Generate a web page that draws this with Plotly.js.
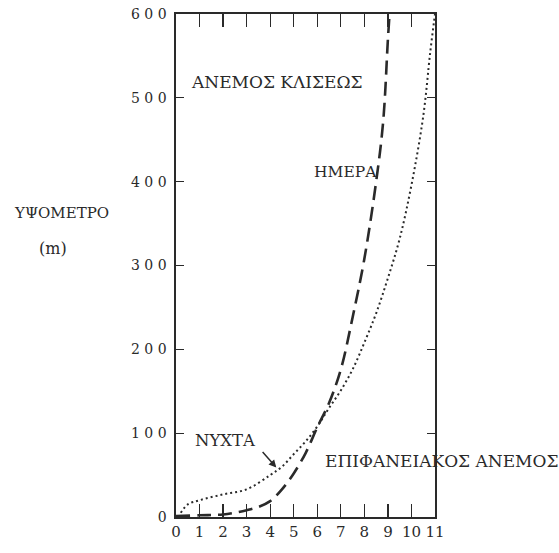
<!DOCTYPE html>
<html>
<head>
<meta charset="utf-8">
<script src="https://cdn.plot.ly/plotly-3.0.1.min.js"></script>
<style>html,body{margin:0;padding:0;background:#fff;}#chart{width:559px;height:553px;}</style>
</head>
<body>
<div id="chart"></div>
<script>
// Day profile (dashed) - wind speed vs height
const dayX = [0, 1, 2, 2.5, 3, 3.5, 4, 4.5, 5, 5.5, 6, 6.5, 7, 7.5, 8, 8.5, 8.8, 9, 9.07];
const dayY = [1, 2, 3, 5, 8, 12, 19, 33, 52, 76, 107, 136, 176, 238, 308, 400, 472, 570, 600];
// Night profile (dotted)
const nightX = [0.2, 0.5, 1, 2, 3, 4, 4.5, 5, 5.5, 6, 6.5, 7, 7.5, 8, 8.5, 9, 9.5, 10, 10.5, 10.8, 11];
const nightY = [5, 15, 20, 27, 33, 50, 60, 75, 90, 108, 130, 151, 176, 208, 243, 285, 332, 396, 478, 555, 600];

const xTicks = [0,1,2,3,4,5,6,7,8,9,10,11];
const yTicks = [0,100,200,300,400,500,600];
const yTickText = ["0","1 0 0","2 0 0","3 0 0","4 0 0","5 0 0","6 0 0"];

const FONT = "DejaVu Serif";
const INK = "#2a2a2a";

const traces = [
  {x: dayX, y: dayY, mode: "lines", line: {color: INK, width: 2.6, dash: "14px,7px", shape: "spline"}, hoverinfo: "skip"},
  {x: nightX, y: nightY, mode: "lines", line: {color: INK, width: 2, dash: "2px,3px", shape: "spline"}, hoverinfo: "skip"}
];

const layout = {
  width: 559, height: 553,
  margin: {l: 176, r: 124, t: 14, b: 36},
  paper_bgcolor: "#fff", plot_bgcolor: "#fff",
  showlegend: false,
  font: {family: FONT, color: INK},
  xaxis: {
    range: [0, 11], tickvals: xTicks, ticktext: xTicks.map(String),
    ticks: "inside", ticklen: 13, tickwidth: 1.3, tickcolor: INK,
    showline: true, linecolor: INK, linewidth: 1.6, mirror: "ticks",
    showgrid: false, zeroline: false,
    tickfont: {family: FONT, size: 15, color: INK}
  },
  yaxis: {
    range: [0, 600], tickvals: yTicks, ticktext: yTickText,
    ticks: "inside", ticklen: 8, tickwidth: 1.3, tickcolor: INK,
    showline: true, linecolor: INK, linewidth: 1.6, mirror: "ticks",
    showgrid: false, zeroline: false,
    tickfont: {family: FONT, size: 14, color: INK},
    ticklabelstandoff: 5
  },
  annotations: [
    {text: "ΑΝΕΜΟΣ ΚΛΙΣΕΩΣ", x: 4.3, y: 519, xref: "x", yref: "y", xanchor: "center", yanchor: "middle", showarrow: false, font: {size: 17, family: FONT, color: INK}},
    {text: "ΗΜΕΡΑ", x: 7.19, y: 411, xref: "x", yref: "y", xanchor: "center", yanchor: "middle", showarrow: false, font: {size: 15.5, family: FONT, color: INK}},
    {text: "ΝΥΧΤΑ", x: 2.09, y: 91, xref: "x", yref: "y", xanchor: "center", yanchor: "middle", showarrow: false, font: {size: 16.5, family: FONT, color: INK}},
    {text: "", x: 4.26, y: 59, xref: "x", yref: "y", showarrow: true, ax: -15, ay: -17, arrowhead: 2, arrowsize: 1, arrowwidth: 1.5, arrowcolor: INK},
    {text: "ΕΠΙΦΑΝΕΙΑΚΟΣ ΑΝΕΜΟΣ", x: 1.027, y: 0.111, xref: "paper", yref: "paper", xanchor: "center", yanchor: "middle", showarrow: false, font: {size: 17, family: FONT, color: INK}},
    {text: "ΥΨΟΜΕΤΡΟ", x: -0.444, y: 0.605, xref: "paper", yref: "paper", xanchor: "center", yanchor: "middle", showarrow: false, font: {size: 15, family: FONT, color: INK}},
    {text: "(m)", x: -0.475, y: 0.534, xref: "paper", yref: "paper", xanchor: "center", yanchor: "middle", showarrow: false, font: {size: 16, family: FONT, color: INK}}
  ]
};

Plotly.newPlot("chart", traces, layout, {staticPlot: true, displayModeBar: false});
</script>
</body>
</html>
